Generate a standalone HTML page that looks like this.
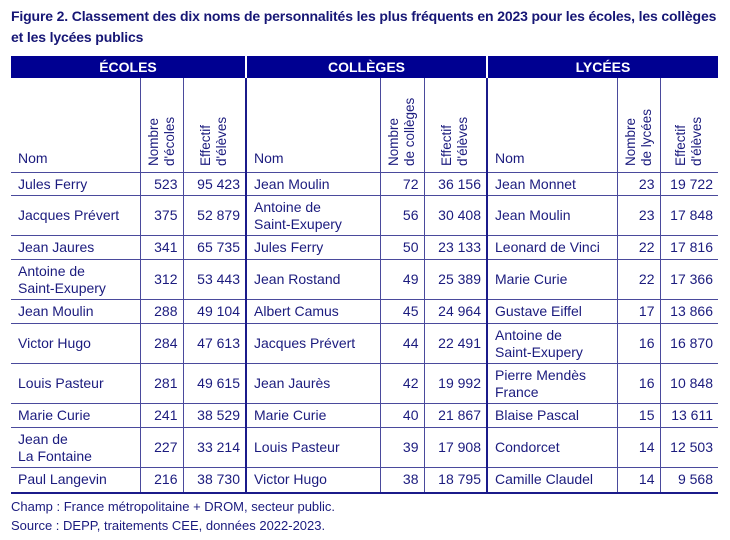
<!DOCTYPE html>
<html><head><meta charset="utf-8"><style>
body{margin:0;width:730px;height:540px;background:#fff;font-family:"Liberation Sans",sans-serif;color:#1b1b7e;position:relative;overflow:hidden}
.t{position:absolute;left:11px;top:6px;font-weight:bold;font-size:14px;line-height:21px;color:#161675;letter-spacing:-0.15px}
table{position:absolute;left:11px;top:56px;border-collapse:collapse;table-layout:fixed;font-size:14px}
td,th{padding:0;border-top:1.5px solid #4a4a9c;}
th.g{background:#000091;color:#fff;height:22px;font-size:14px;border:none;border-left:2px solid #fff}
th.g:first-child{border-left:none}
.h td{height:89px;vertical-align:bottom;border-top:none}
.v{writing-mode:vertical-rl;transform:rotate(180deg);font-size:13.5px;line-height:16px;margin:0 auto 6px;height:84px;text-align:left}
.n{padding-left:7px}
.h .n{padding-bottom:5px}
.r{text-align:right;padding-right:5px}
.c{border-left:1.5px solid #4a4a9c}
.s{border-left:2px solid #1b1b8a}
td{line-height:17px}
tr.last td{border-bottom:2px solid #1b1b8a}
.f{position:absolute;left:11px;top:497px;font-size:13px;line-height:19px;color:#1b1b7e}
</style></head><body>
<div class="t">Figure 2. Classement des dix noms de personnalités les plus fréquents en 2023 pour les écoles, les collèges<br>et les lycées publics</div>
<table>
<colgroup><col style="width:129px"><col style="width:43px"><col style="width:63px"><col style="width:134px"><col style="width:44px"><col style="width:63px"><col style="width:130px"><col style="width:43px"><col style="width:58px"></colgroup>
<tr><th class="g" colspan="3">ÉCOLES</th><th class="g" colspan="3">COLLÈGES</th><th class="g" colspan="3">LYCÉES</th></tr>
<tr class="h"><td class="n">Nom</td><td class="c"><div class="v">Nombre<br>d'écoles</div></td><td class="c"><div class="v">Effectif<br>d'élèves</div></td>
<td class="n s">Nom</td><td class="c"><div class="v">Nombre<br>de collèges</div></td><td class="c"><div class="v">Effectif<br>d'élèves</div></td>
<td class="n s">Nom</td><td class="c"><div class="v">Nombre<br>de lycées</div></td><td class="c"><div class="v">Effectif<br>d'élèves</div></td></tr>
<tr style="height:23px"><td class="n">Jules Ferry</td><td class="r c">523</td><td class="r c">95 423</td><td class="n s">Jean Moulin</td><td class="r c">72</td><td class="r c">36 156</td><td class="n s">Jean Monnet</td><td class="r c">23</td><td class="r c">19 722</td></tr>
<tr style="height:40px"><td class="n">Jacques Prévert</td><td class="r c">375</td><td class="r c">52 879</td><td class="n s">Antoine de<br>Saint-Exupery</td><td class="r c">56</td><td class="r c">30 408</td><td class="n s">Jean Moulin</td><td class="r c">23</td><td class="r c">17 848</td></tr>
<tr style="height:24px"><td class="n">Jean Jaures</td><td class="r c">341</td><td class="r c">65 735</td><td class="n s">Jules Ferry</td><td class="r c">50</td><td class="r c">23 133</td><td class="n s">Leonard de Vinci</td><td class="r c">22</td><td class="r c">17 816</td></tr>
<tr style="height:40px"><td class="n">Antoine de<br>Saint-Exupery</td><td class="r c">312</td><td class="r c">53 443</td><td class="n s">Jean Rostand</td><td class="r c">49</td><td class="r c">25 389</td><td class="n s">Marie Curie</td><td class="r c">22</td><td class="r c">17 366</td></tr>
<tr style="height:24px"><td class="n">Jean Moulin</td><td class="r c">288</td><td class="r c">49 104</td><td class="n s">Albert Camus</td><td class="r c">45</td><td class="r c">24 964</td><td class="n s">Gustave Eiffel</td><td class="r c">17</td><td class="r c">13 866</td></tr>
<tr style="height:40px"><td class="n">Victor Hugo</td><td class="r c">284</td><td class="r c">47 613</td><td class="n s">Jacques Prévert</td><td class="r c">44</td><td class="r c">22 491</td><td class="n s">Antoine de<br>Saint-Exupery</td><td class="r c">16</td><td class="r c">16 870</td></tr>
<tr style="height:40px"><td class="n">Louis Pasteur</td><td class="r c">281</td><td class="r c">49 615</td><td class="n s">Jean Jaurès</td><td class="r c">42</td><td class="r c">19 992</td><td class="n s">Pierre Mendès<br>France</td><td class="r c">16</td><td class="r c">10 848</td></tr>
<tr style="height:24px"><td class="n">Marie Curie</td><td class="r c">241</td><td class="r c">38 529</td><td class="n s">Marie Curie</td><td class="r c">40</td><td class="r c">21 867</td><td class="n s">Blaise Pascal</td><td class="r c">15</td><td class="r c">13 611</td></tr>
<tr style="height:40px"><td class="n">Jean de<br>La Fontaine</td><td class="r c">227</td><td class="r c">33 214</td><td class="n s">Louis Pasteur</td><td class="r c">39</td><td class="r c">17 908</td><td class="n s">Condorcet</td><td class="r c">14</td><td class="r c">12 503</td></tr>
<tr class="last" style="height:25px"><td class="n">Paul Langevin</td><td class="r c">216</td><td class="r c">38 730</td><td class="n s">Victor Hugo</td><td class="r c">38</td><td class="r c">18 795</td><td class="n s">Camille Claudel</td><td class="r c">14</td><td class="r c">9 568</td></tr>
</table>
<div class="f">Champ : France métropolitaine + DROM, secteur public.<br>Source : DEPP, traitements CEE, données 2022-2023.</div>
</body></html>
